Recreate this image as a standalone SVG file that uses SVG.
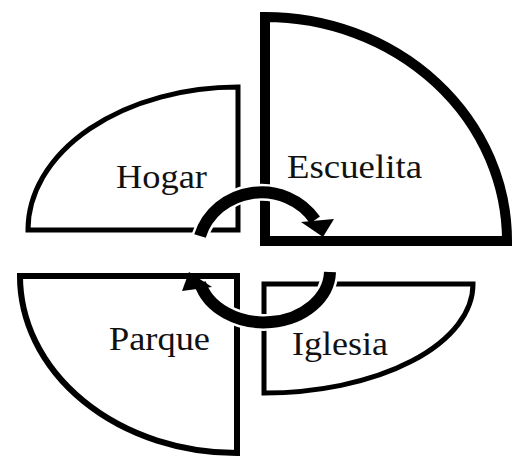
<svg xmlns="http://www.w3.org/2000/svg" width="513" height="460" viewBox="0 0 513 460">
<style>
.shape{fill:#fff;stroke:#000;stroke-linejoin:miter}
.lbl{font-family:"Liberation Serif","Times New Roman",serif;font-size:34px;fill:#111}
.halo{fill:none;stroke:#fff;stroke-width:17}
.arc{fill:none;stroke:#000;stroke-width:12}
</style>
<rect width="513" height="460" fill="#fff"/>
<g id="hogar">
<path class="shape" stroke-width="5" d="M238,87 L238,230 L28,230 A210,143 0 0 1 238,87 Z"/>
<text class="lbl" x="116" y="188" textLength="91" lengthAdjust="spacingAndGlyphs">Hogar</text>
</g>
<g id="escuelita">
<path class="shape" stroke-width="10" d="M265,17 A242,224 0 0 1 507,241 L265,241 Z"/>
<text class="lbl" x="287" y="178" textLength="135" lengthAdjust="spacingAndGlyphs">Escuelita</text>
</g>
<g id="parque">
<path class="shape" stroke-width="6" d="M20,276 L237,276 L237,453 A217,177 0 0 1 20,276 Z"/>
<text class="lbl" x="109" y="350" textLength="101" lengthAdjust="spacingAndGlyphs">Parque</text>
</g>
<g id="iglesia">
<path class="shape" stroke-width="5" d="M264,284 L473,284 A209,109 0 0 1 264,393 Z"/>
<text class="lbl" x="292" y="355" textLength="96" lengthAdjust="spacingAndGlyphs">Iglesia</text>
</g>
<g id="connectors">
<path class="halo" d="M200,236 A64,61 0 0 1 315,220"/>
<path class="halo" d="M330,272 A66,52 0 0 1 200,283"/>
<path class="arc" d="M200,236 A64,61 0 0 1 315,220"/>
<polygon points="301,222 334,219 323,237" fill="#000"/>
<path class="arc" d="M330,272 A66,52 0 0 1 200,283"/>
<polygon points="189,272 182,291 212,287" fill="#000"/>
</g>
</svg>
